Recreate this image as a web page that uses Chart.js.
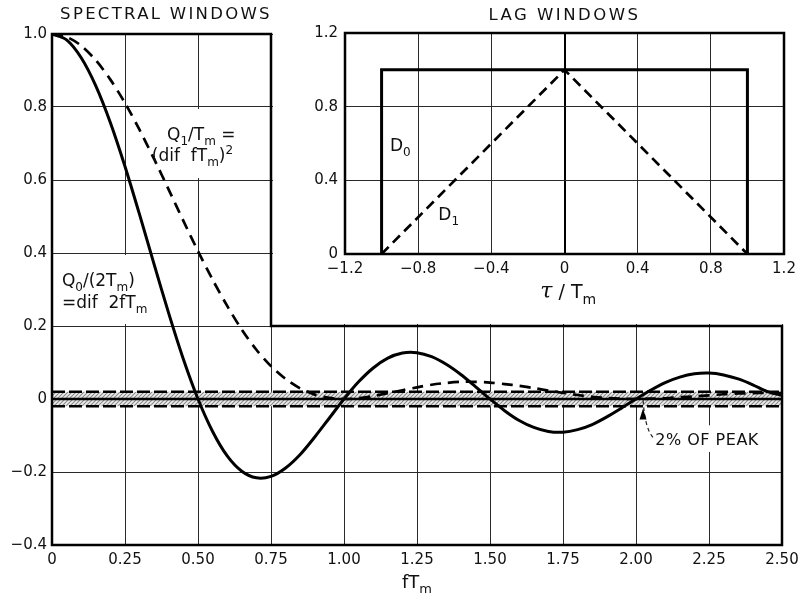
<!DOCTYPE html>
<html>
<head>
<meta charset="utf-8">
<script src="https://cdn.jsdelivr.net/npm/chart.js@4.4.1/dist/chart.umd.min.js"></script>
<style>
  html, body { margin: 0; padding: 0; background: #fff; }
  #wrap { position: relative; width: 811px; height: 598px; overflow: hidden; }
  #chartMain { position: absolute; left: 0; top: 0; }
  #chartLag { position: absolute; left: 273px; top: 0; background: #fff; }
</style>
</head>
<body>
<div id="wrap">
  <canvas id="chartMain" width="811" height="598"></canvas>
  <canvas id="chartLag" width="538" height="324"></canvas>
</div>
<script>
// spectral windows at steps of 0.05 in fTm
const fTm = [0,0.05,0.10,0.15,0.20,0.25,0.30,0.35,0.40,0.45,0.50,0.55,0.60,0.65,0.70,0.75,0.80,0.85,0.90,0.95,
  1.00,1.05,1.10,1.15,1.20,1.25,1.30,1.35,1.40,1.45,1.50,1.55,1.60,1.65,1.70,1.75,1.80,1.85,1.90,1.95,
  2.00,2.05,2.10,2.15,2.20,2.25,2.30,2.35,2.40,2.45,2.50];
const q0Values = [1.000,0.984,0.935,0.858,0.757,0.637,0.505,0.368,0.234,0.109,0.000,-0.089,-0.156,-0.198,-0.216,-0.212,-0.189,-0.152,-0.104,-0.052,
  0.000,0.047,0.085,0.112,0.126,0.127,0.116,0.095,0.067,0.034,0.000,-0.032,-0.059,-0.078,-0.089,-0.091,-0.084,-0.070,-0.049,-0.025,
  0.000,0.024,0.045,0.060,0.069,0.071,0.066,0.055,0.039,0.020,0.010];
const q1Values = [1.000,0.992,0.968,0.928,0.875,0.811,0.737,0.657,0.573,0.488,0.405,0.327,0.255,0.190,0.135,0.090,0.055,0.029,0.012,0.003,
  0.000,0.002,0.008,0.016,0.024,0.032,0.039,0.044,0.047,0.047,0.045,0.041,0.036,0.030,0.023,0.017,0.011,0.006,0.003,0.001,
  0.000,0.001,0.002,0.005,0.007,0.010,0.013,0.015,0.016,0.017,0.016];

// the 2% of peak band
const bandX = [0, 2.5];
const bandTop = [0.02, 0.02];
const bandBottom = [-0.02, -0.02];

const fTickLabels = ['0','0.25','0.50','0.75','1.00','1.25','1.50','1.75','2.00','2.25','2.50'];
const qTickLabels = ['\u22120.4','\u22120.2','0','0.2','0.4','0.6','0.8','1.0'];

// lag windows
const lagX0 = [-1, -1, 1, 1];
const lagD0 = [0, 1, 1, 0];
const lagX1 = [-1, 0, 1];
const lagD1 = [0, 1, 0];
const tauTickLabels = ['\u22121.2','\u22120.8','\u22120.4','0','0.4','0.8','1.2'];
const lagYTickLabels = ['0','0.4','0.8','1.2'];

const FONT = '"DejaVu Sans", "Liberation Sans", sans-serif';
const INK = '#111';

function pts(xs, ys){ return xs.map((x, i) => ({ x: x, y: ys[i] })); }

function makeHatch(){
  const c = document.createElement('canvas');
  c.width = 4; c.height = 4;
  const g = c.getContext('2d');
  g.fillStyle = '#ececec';
  g.fillRect(0, 0, 4, 4);
  g.strokeStyle = '#8a8a8a';
  g.lineWidth = 1.1;
  g.beginPath();
  g.moveTo(0, 4); g.lineTo(4, 0);
  g.moveTo(-1, 1); g.lineTo(1, -1);
  g.moveTo(3, 5); g.lineTo(5, 3);
  g.stroke();
  return g.createPattern(c, 'repeat');
}

// text with sub (1) / superscript (2) parts
function richText(ctx, parts, x, y, size, align){
  const base = size + 'px ' + FONT;
  const small = Math.round(size * 0.72) + 'px ' + FONT;
  let w = 0;
  const widths = parts.map(([t, m]) => {
    ctx.font = m ? small : base;
    const ww = ctx.measureText(t).width;
    w += ww;
    return ww;
  });
  let cx = align === 'center' ? x - w / 2 : x;
  ctx.textAlign = 'left';
  ctx.textBaseline = 'alphabetic';
  ctx.fillStyle = INK;
  parts.forEach(([t, m], i) => {
    ctx.font = m ? small : base;
    const dy = m === 1 ? size * 0.3 : (m === 2 ? -size * 0.42 : 0);
    ctx.fillText(t, cx, y + dy);
    cx += widths[i];
  });
}

function spacedText(ctx, text, x, y, size, spacing){
  ctx.save();
  ctx.font = size + 'px ' + FONT;
  ctx.fillStyle = INK;
  ctx.textAlign = 'center';
  ctx.textBaseline = 'middle';
  if ('letterSpacing' in ctx) ctx.letterSpacing = spacing + 'px';
  ctx.fillText(text, x, y);
  ctx.restore();
}

function fixAxis(w, h){
  return function(s){
    if (w != null) s.width = w;
    if (h != null) s.height = h;
    s.paddingLeft = 0; s.paddingRight = 0; s.paddingTop = 0; s.paddingBottom = 0;
  };
}

const mainDecor = {
  id: 'mainDecor',
  beforeDatasetsDraw(chart){
    const { ctx, scales: { x, y } } = chart;
    ctx.save();
    ctx.fillStyle = '#fff';
    // label backgrounds hide the grid under the text
    let l = x.getPixelForValue(0.33), r = x.getPixelForValue(0.75) - 2;
    let t = y.getPixelForValue(0.8) + 2, b = y.getPixelForValue(0.6) - 2;
    ctx.fillRect(l, t, r - l, b - t);
    l = x.getPixelForValue(0) + 2; r = x.getPixelForValue(0.34);
    t = y.getPixelForValue(0.4) + 2; b = y.getPixelForValue(0.2) - 2;
    ctx.fillRect(l, t, r - l, b - t);
    l = x.getPixelForValue(2.06); r = x.getPixelForValue(2.44);
    t = y.getPixelForValue(-0.072); b = y.getPixelForValue(-0.145);
    ctx.fillRect(l, t, r - l, b - t);
    ctx.restore();
  },
  afterDatasetsDraw(chart){
    // zero line sits on top of the hatched band
    const { ctx, chartArea: a, scales: { y } } = chart;
    const y0 = y.getPixelForValue(0);
    ctx.save();
    ctx.strokeStyle = '#000';
    ctx.lineWidth = 2.6;
    ctx.beginPath();
    ctx.moveTo(a.left, y0);
    ctx.lineTo(a.right, y0);
    ctx.stroke();
    ctx.restore();
  },
  afterDraw(chart){
    const { ctx, scales: { x, y } } = chart;
    ctx.save();
    // stepped frame
    ctx.strokeStyle = '#000';
    ctx.lineWidth = 2.5;
    ctx.beginPath();
    ctx.moveTo(x.getPixelForValue(0), y.getPixelForValue(1.0));
    ctx.lineTo(x.getPixelForValue(0), y.getPixelForValue(-0.4));
    ctx.lineTo(x.getPixelForValue(2.5), y.getPixelForValue(-0.4));
    ctx.lineTo(x.getPixelForValue(2.5), y.getPixelForValue(0.2));
    ctx.lineTo(x.getPixelForValue(0.75), y.getPixelForValue(0.2));
    ctx.lineTo(x.getPixelForValue(0.75), y.getPixelForValue(1.0));
    ctx.closePath();
    ctx.stroke();

    spacedText(ctx, 'SPECTRAL WINDOWS', 166, 15, 16.5, 2.3);

    richText(ctx, [['Q',0],['1',1],['/T',0],['m',1],[' =',0]], x.getPixelForValue(0.394), y.getPixelForValue(0.71), 17);
    richText(ctx, [['(dif  fT',0],['m',1],[')',0],['2',2]], x.getPixelForValue(0.342), y.getPixelForValue(0.652), 17);
    richText(ctx, [['Q',0],['0',1],['/(2T',0],['m',1],[')',0]], x.getPixelForValue(0.034), y.getPixelForValue(0.31), 17);
    richText(ctx, [['=dif  2fT',0],['m',1]], x.getPixelForValue(0.034), y.getPixelForValue(0.25), 17);
    richText(ctx, [['fT',0],['m',1]], (chart.chartArea.left + chart.chartArea.right) / 2, 588, 18, 'center');

    // 2% of peak note with dashed arrow
    ctx.font = '16px ' + FONT;
    ctx.fillStyle = INK;
    ctx.textAlign = 'left';
    ctx.textBaseline = 'alphabetic';
    if ('letterSpacing' in ctx) ctx.letterSpacing = '0.5px';
    ctx.fillText('2% OF PEAK', x.getPixelForValue(2.066), y.getPixelForValue(-0.126));
    if ('letterSpacing' in ctx) ctx.letterSpacing = '0px';
    const tipX = x.getPixelForValue(2.024), tipY = y.getPixelForValue(-0.026);
    ctx.strokeStyle = '#222';
    ctx.lineWidth = 1.2;
    ctx.setLineDash([4, 3]);
    ctx.beginPath();
    ctx.moveTo(x.getPixelForValue(2.058), y.getPixelForValue(-0.105));
    ctx.quadraticCurveTo(x.getPixelForValue(2.03), y.getPixelForValue(-0.08), tipX, tipY - 10);
    ctx.stroke();
    ctx.setLineDash([]);
    ctx.fillStyle = '#000';
    ctx.beginPath();
    ctx.moveTo(tipX, tipY);
    ctx.lineTo(tipX - 3.5, tipY + 11);
    ctx.lineTo(tipX + 3.5, tipY + 11);
    ctx.closePath();
    ctx.fill();
    ctx.restore();
  }
};

const lagDecor = {
  id: 'lagDecor',
  afterDraw(chart){
    const { ctx, chartArea: a, scales: { x, y } } = chart;
    ctx.save();
    ctx.strokeStyle = '#000';
    ctx.lineWidth = 2.5;
    ctx.strokeRect(a.left, a.top, a.right - a.left, a.bottom - a.top);
    spacedText(ctx, 'LAG WINDOWS', (a.left + a.right) / 2, 16, 16.5, 2.5);
    richText(ctx, [['D',0],['0',1]], x.getPixelForValue(-0.954), y.getPixelForValue(0.56), 17);
    richText(ctx, [['D',0],['1',1]], x.getPixelForValue(-0.69), y.getPixelForValue(0.185), 17);
    ctx.save();
    ctx.font = 'italic 22px "DejaVu Serif", serif';
    ctx.fillStyle = INK;
    ctx.textAlign = 'right';
    ctx.textBaseline = 'alphabetic';
    const cx = (a.left + a.right) / 2;
    ctx.fillText('\u03C4', cx - 12, 298);
    ctx.restore();
    richText(ctx, [[' / T',0],['m',1]], cx - 12, 298, 19);
    ctx.restore();
  }
};

const tickFont = { family: FONT, size: 15 };
const zeroGrid = c => (c.tick && Math.abs(c.tick.value) < 1e-9);

new Chart(document.getElementById('chartMain'), {
  type: 'scatter',
  data: {
    datasets: [
      {
        label: 'Q0/(2Tm)',
        data: pts(fTm, q0Values),
        showLine: true,
        borderColor: '#000',
        borderWidth: 3,
        pointRadius: 0,
        tension: 0.3,
        fill: false,
        order: 0
      },
      {
        label: 'Q1/Tm',
        data: pts(fTm, q1Values),
        showLine: true,
        borderColor: '#000',
        borderWidth: 2.7,
        borderDash: [11, 7],
        pointRadius: 0,
        tension: 0.3,
        fill: false,
        order: 0
      },
      {
        label: '+2%',
        data: pts(bandX, bandTop),
        showLine: true,
        borderColor: '#000',
        borderWidth: 2.6,
        borderDash: [13, 4],
        pointRadius: 0,
        fill: '+1',
        backgroundColor: makeHatch(),
        order: 2
      },
      {
        label: '-2%',
        data: pts(bandX, bandBottom),
        showLine: true,
        borderColor: '#000',
        borderWidth: 2.6,
        borderDash: [13, 4],
        pointRadius: 0,
        fill: false,
        order: 1
      }
    ]
  },
  options: {
    responsive: false,
    animation: false,
    layout: { padding: { left: 0, top: 34, right: 29, bottom: 0 } },
    plugins: { legend: { display: false }, tooltip: { enabled: false }, title: { display: false } },
    scales: {
      x: {
        type: 'linear',
        min: 0, max: 2.5,
        border: { display: false },
        grid: { color: '#2a2a2a', lineWidth: 1, drawTicks: false },
        ticks: {
          stepSize: 0.25, autoSkip: false, maxRotation: 0, padding: 6,
          color: INK, font: tickFont,
          callback: (v, i) => fTickLabels[i] ?? ''
        },
        afterFit: fixAxis(null, 53)
      },
      y: {
        type: 'linear',
        min: -0.4, max: 1.0,
        border: { display: false },
        grid: {
          color: c => zeroGrid(c) ? '#000' : '#2a2a2a',
          lineWidth: c => zeroGrid(c) ? 3 : 1,
          drawTicks: false
        },
        ticks: {
          stepSize: 0.2, autoSkip: false, padding: 5,
          color: INK, font: tickFont,
          callback: (v, i) => qTickLabels[i] ?? ''
        },
        afterFit: fixAxis(52, null)
      }
    }
  },
  plugins: [mainDecor]
});

new Chart(document.getElementById('chartLag'), {
  type: 'scatter',
  data: {
    datasets: [
      {
        label: 'D0',
        data: pts(lagX0, lagD0),
        showLine: true,
        borderColor: '#000',
        borderWidth: 3,
        pointRadius: 0,
        tension: 0
      },
      {
        label: 'D1',
        data: pts(lagX1, lagD1),
        showLine: true,
        borderColor: '#000',
        borderWidth: 2.7,
        borderDash: [10, 6],
        pointRadius: 0,
        tension: 0
      }
    ]
  },
  options: {
    responsive: false,
    animation: false,
    layout: { padding: { left: 0, top: 33, right: 27, bottom: 0 } },
    plugins: { legend: { display: false }, tooltip: { enabled: false }, title: { display: false } },
    scales: {
      x: {
        type: 'linear',
        min: -1.2, max: 1.2,
        border: { display: false },
        grid: {
          color: c => zeroGrid(c) ? '#000' : '#2a2a2a',
          lineWidth: c => zeroGrid(c) ? 2 : 1,
          drawTicks: false
        },
        ticks: {
          stepSize: 0.4, autoSkip: false, maxRotation: 0, padding: 6,
          color: INK, font: tickFont,
          callback: (v, i) => tauTickLabels[i] ?? ''
        },
        afterFit: fixAxis(null, 70)
      },
      y: {
        type: 'linear',
        min: 0, max: 1.2,
        border: { display: false },
        grid: { color: '#2a2a2a', lineWidth: 1, drawTicks: false },
        ticks: {
          stepSize: 0.4, autoSkip: false, padding: 7,
          color: INK, font: tickFont,
          callback: (v, i) => lagYTickLabels[i] ?? ''
        },
        afterFit: fixAxis(72, null)
      }
    }
  },
  plugins: [lagDecor]
});
</script>
</body>
</html>
